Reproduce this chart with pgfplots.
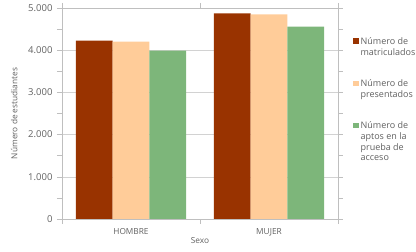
\documentclass[border=0pt]{standalone}
\usepackage{fontspec}
\setmainfont{Open Sans}
\usepackage{pgfplots}
\pgfplotsset{compat=1.18}
\definecolor{cA}{HTML}{993300}
\definecolor{cB}{HTML}{FFCC99}
\definecolor{cC}{HTML}{7DB67A}
\definecolor{txt}{HTML}{606060}
\definecolor{axc}{HTML}{BFBFBF}
\begin{document}
\begin{tikzpicture}[font=\fontsize{8.5}{10.5}\selectfont]
\begin{axis}[
  at={(0pt,0pt)}, anchor=south west,
  scale only axis, width=276pt, height=211pt,
  xmin=-0.5, xmax=1.5, ymin=0, ymax=5000,
  ybar=0pt, bar width=36.7pt,
  xtick={0,1}, xticklabels={HOMBRE,MUJER},
  minor xtick={-0.5,0.5,1.5},
  ytick={0,1000,2000,3000,4000,5000},
  minor ytick={500,1500,2500,3500,4500},
  ymajorgrids, grid style={draw=axc!70, line width=0.5pt},
  tick align=outside,
  major tick length=5pt, minor tick length=5pt,
  x tick style={draw=none},
  minor x tick style={draw=axc, line width=0.5pt},
  y tick style={draw=axc, line width=0.5pt},
  minor y tick style={draw=axc, line width=0.5pt},
  axis line style={draw=axc, line width=0.5pt},
  tick label style={text=txt},
  xticklabel style={font=\fontsize{8.3}{10}\selectfont, yshift=-1pt},
  yticklabel style={font=\fontsize{9.5}{11}\selectfont, xshift=-1pt},
  /pgf/number format/.cd, 1000 sep={.}, assume math mode=true, /pgfplots/.cd,
  ylabel={Número de estudiantes}, xlabel={Sexo},
  label style={text=txt, font=\fontsize{8.3}{10}\selectfont},
  ylabel style={at={(axis description cs:-0.173,0.5)}, anchor=center},
  xlabel style={at={(axis description cs:0.5,-0.1)}, anchor=center},
  legend style={at={(1.054,0.862)}, anchor=north west, draw=none, fill=none,
    inner sep=0pt, row sep=23pt, text=txt,
    font=\fontsize{9}{10.6}\selectfont,
    cells={anchor=north west, align=left},
    nodes={inner sep=0pt, inner xsep=2pt}},
]
\addplot[fill=cA, draw=none, legend image code/.code={\fill[cA] (0pt,-6.5pt) rectangle (5.5pt,-1pt);}]
  coordinates {(0,4226) (1,4874)};
\addlegendentry{Número de\\matriculados}
\addplot[fill=cB, draw=none, legend image code/.code={\fill[cB] (0pt,-6.5pt) rectangle (5.5pt,-1pt);}]
  coordinates {(0,4203) (1,4850)};
\addlegendentry{Número de\\presentados}
\addplot[fill=cC, draw=none, legend image code/.code={\fill[cC] (0pt,-6.5pt) rectangle (5.5pt,-1pt);}]
  coordinates {(0,3989) (1,4557)};
\addlegendentry{Número de\\aptos en la\\prueba de\\acceso}
\end{axis}
\pgfresetboundingbox
\path (-62pt,-33pt) rectangle (354pt,219pt);
\end{tikzpicture}
\end{document}
